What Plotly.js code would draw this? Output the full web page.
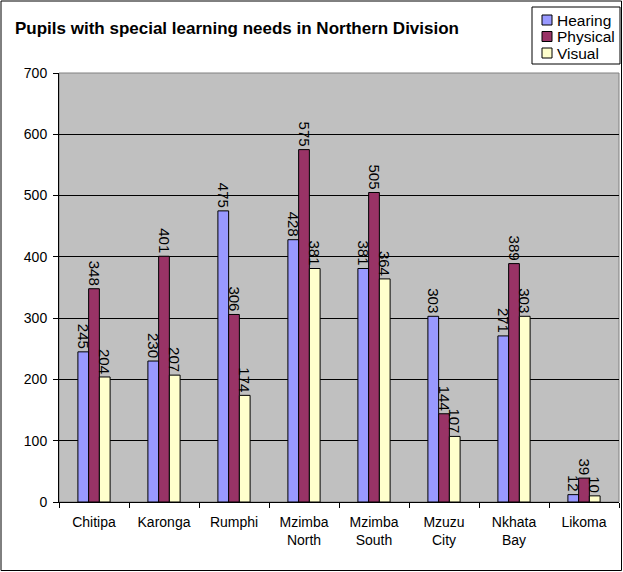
<!DOCTYPE html>
<html>
<head>
<meta charset="utf-8">
<script src="https://cdn.plot.ly/plotly-3.0.1.min.js"></script>
<style>html,body{margin:0;padding:0;background:#fff;}#chart{width:623px;height:572px;}</style>
</head>
<body>
<div id="chart"></div>
<script>
const categories = ["Chitipa", "Karonga", "Rumphi", "Mzimba<br>North", "Mzimba<br>South", "Mzuzu<br>City", "Nkhata<br>Bay", "Likoma"];
const hearing = [245, 230, 475, 428, 381, 303, 271, 12];
const physical = [348, 401, 306, 575, 505, 144, 389, 39];
const visual = [204, 207, 174, 381, 364, 107, 303, 10];
const seriesNames = ["Hearing", "Physical", "Visual"];
const seriesColors = ["#9999FF", "#993366", "#FFFFCC"];
const yTicks = [0, 100, 200, 300, 400, 500, 600, 700];

const FONT = "Liberation Sans, Arial, sans-serif";
const W = 623, H = 572;
const L = 59, R = 4, T = 73, B = 70;
const pw = W - L - R, ph = H - T - B;
const px = v => (v - L) / pw;
const py = v => (H - B - v) / ph;

const series = [hearing, physical, visual];
const traces = series.map((vals, i) => ({
  type: "bar",
  name: seriesNames[i],
  x: categories,
  y: vals,
  text: vals.map(String),
  textposition: "outside",
  textangle: 90,
  constraintext: "none",
  cliponaxis: false,
  textfont: {family: FONT, size: 15, color: "#000"},
  marker: {color: seriesColors[i], line: {color: "#000", width: 1}},
  hoverinfo: "x+y+name"
}));

// custom legend (box, swatches, labels)
const shapes = [
  {type: "rect", xref: "paper", yref: "paper", x0: 0, x1: 1, y0: 0, y1: 1,
   line: {color: "#808080", width: 1}, layer: "below"},
  {type: "rect", xref: "paper", yref: "paper", x0: px(1), x1: px(621.5), y0: py(1), y1: py(570.5),
   line: {color: "#000", width: 1}, fillcolor: "rgba(0,0,0,0)"},
  {type: "rect", xref: "paper", yref: "paper", x0: px(532), x1: px(620), y0: py(7), y1: py(64),
   line: {color: "#000", width: 1}, fillcolor: "#fff"}
];
const annotations = [];
const legendRows = [20, 36.5, 53];
seriesNames.forEach((name, i) => {
  const cy = legendRows[i];
  shapes.push({type: "rect", xref: "paper", yref: "paper",
    x0: px(542), x1: px(552), y0: py(cy - 5), y1: py(cy + 5),
    line: {color: "#000", width: 1}, fillcolor: seriesColors[i]});
  annotations.push({xref: "paper", yref: "paper", x: px(555), y: py(cy),
    xanchor: "left", yanchor: "middle", showarrow: false, text: name,
    font: {family: FONT, size: 15.5, color: "#000"}});
});

const layout = {
  width: W, height: H,
  margin: {l: L, r: R, t: T, b: B, pad: 0},
  paper_bgcolor: "#fff",
  plot_bgcolor: "#C0C0C0",
  font: {family: FONT, size: 14, color: "#000"},
  barmode: "group",
  bargap: 0.54,
  bargroupgap: 0,
  showlegend: false,
  title: {
    text: "<b>Pupils with special learning needs in Northern Division</b>",
    font: {family: FONT, size: 17, color: "#000"},
    xref: "container", yref: "container",
    x: 15 / W, xanchor: "left",
    y: 1 - 28 / H, yanchor: "middle"
  },
  xaxis: {
    type: "category",
    showgrid: false,
    showline: true, linecolor: "#000", linewidth: 1,
    ticks: "outside", ticklen: 5, tickcolor: "#000",
    tickson: "boundaries",
    ticklabelstandoff: 7,
    tickfont: {family: FONT, size: 14, color: "#000"},
    zeroline: false,
    fixedrange: true
  },
  yaxis: {
    range: [0, 700],
    tickvals: yTicks,
    ticktext: yTicks.map(String),
    showgrid: true, gridcolor: "#000", gridwidth: 1,
    showline: true, linecolor: "#000", linewidth: 1,
    ticks: "outside", ticklen: 5, tickcolor: "#000",
    ticklabelstandoff: 3,
    tickfont: {family: FONT, size: 14, color: "#000"},
    zeroline: false,
    fixedrange: true
  },
  shapes: shapes,
  annotations: annotations
};

Plotly.newPlot("chart", traces, layout, {displayModeBar: false, staticPlot: true});
</script>
</body>
</html>
